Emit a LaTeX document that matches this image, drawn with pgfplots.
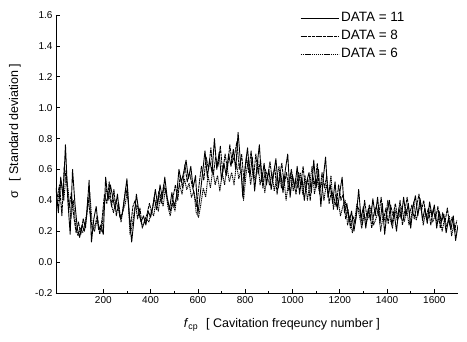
\documentclass[border=0pt]{standalone}
\usepackage{fontspec}
\setmainfont{Liberation Sans}
\usepackage{pgfplots}
\pgfplotsset{compat=1.18}

% Standard deviation of the cavitation signal, one series per data set
\newcommand{\dataA}{
(0,0.48) (10,0.32) (20,0.55) (30,0.42) (40,0.76) (50,0.40) (60,0.18) (70,0.60) (80,0.38) (90,0.22)
(100,0.16) (110,0.24) (120,0.20) (130,0.30) (140,0.53) (150,0.13) (160,0.28) (170,0.36) (180,0.21) (190,0.24)
(200,0.18) (210,0.55) (220,0.40) (230,0.50) (240,0.42) (250,0.34) (260,0.44) (270,0.29) (280,0.31) (290,0.42)
(300,0.54) (310,0.30) (320,0.13) (330,0.28) (340,0.44) (350,0.33) (360,0.26) (370,0.30) (380,0.24) (390,0.33)
(400,0.29) (410,0.36) (420,0.47) (430,0.37) (440,0.50) (450,0.41) (460,0.55) (470,0.42) (480,0.34) (490,0.45)
(500,0.36) (510,0.43) (520,0.60) (530,0.52) (540,0.58) (550,0.66) (560,0.54) (570,0.62) (580,0.48) (590,0.56)
(600,0.31) (610,0.44) (620,0.58) (630,0.72) (640,0.55) (650,0.66) (660,0.58) (670,0.80) (680,0.60) (690,0.71)
(700,0.53) (710,0.64) (720,0.56) (730,0.70) (740,0.62) (750,0.73) (760,0.60) (770,0.84) (780,0.65) (790,0.42)
(800,0.62) (810,0.74) (820,0.55) (830,0.68) (840,0.46) (850,0.62) (860,0.76) (870,0.52) (880,0.64) (890,0.50)
(900,0.60) (910,0.47) (920,0.57) (930,0.67) (940,0.48) (950,0.58) (960,0.45) (970,0.60) (980,0.70) (990,0.42)
(1000,0.56) (1010,0.48) (1020,0.62) (1030,0.44) (1040,0.55) (1050,0.40) (1060,0.52) (1070,0.58) (1080,0.45) (1090,0.66)
(1100,0.48) (1110,0.60) (1120,0.36) (1130,0.54) (1140,0.68) (1150,0.42) (1160,0.50) (1170,0.38) (1180,0.52) (1190,0.34)
(1200,0.45) (1210,0.55) (1220,0.32) (1230,0.38) (1240,0.26) (1250,0.33) (1260,0.20) (1270,0.30) (1280,0.47) (1290,0.28)
(1300,0.36) (1310,0.22) (1320,0.34) (1330,0.27) (1340,0.41) (1350,0.30) (1360,0.42) (1370,0.25) (1380,0.38) (1390,0.18)
(1400,0.33) (1410,0.40) (1420,0.24) (1430,0.32) (1440,0.20) (1450,0.35) (1460,0.28) (1470,0.42) (1480,0.30) (1490,0.38)
(1500,0.22) (1510,0.36) (1520,0.43) (1530,0.30) (1540,0.41) (1550,0.27) (1560,0.35) (1570,0.25) (1580,0.39) (1590,0.30)
(1600,0.37) (1610,0.22) (1620,0.33) (1630,0.26) (1640,0.31) (1650,0.19) (1660,0.28) (1670,0.21) (1680,0.30) (1690,0.14)
(1700,0.24)}

\newcommand{\dataB}{
(5,0.42) (15,0.50) (25,0.30) (35,0.62) (45,0.52) (55,0.35) (65,0.45) (75,0.30) (85,0.19) (95,0.26)
(105,0.18) (115,0.28) (125,0.22) (135,0.42) (145,0.30) (155,0.20) (165,0.24) (175,0.30) (185,0.18) (195,0.28)
(205,0.44) (215,0.38) (225,0.52) (235,0.36) (245,0.47) (255,0.30) (265,0.38) (275,0.26) (285,0.36) (295,0.48)
(305,0.40) (315,0.22) (325,0.36) (335,0.40) (345,0.28) (355,0.35) (365,0.22) (375,0.27) (385,0.31) (395,0.38)
(405,0.32) (415,0.42) (425,0.34) (435,0.46) (445,0.38) (455,0.50) (465,0.45) (475,0.38) (485,0.33) (495,0.42)
(505,0.50) (515,0.40) (525,0.56) (535,0.48) (545,0.63) (555,0.52) (565,0.58) (575,0.50) (585,0.44) (595,0.36)
(605,0.50) (615,0.62) (625,0.53) (635,0.68) (645,0.60) (655,0.74) (665,0.56) (675,0.68) (685,0.62) (695,0.75)
(705,0.58) (715,0.70) (725,0.60) (735,0.76) (745,0.64) (755,0.69) (765,0.78) (775,0.60) (785,0.70) (795,0.52)
(805,0.68) (815,0.58) (825,0.72) (835,0.54) (845,0.70) (855,0.57) (865,0.66) (875,0.48) (885,0.60) (895,0.55)
(905,0.65) (915,0.52) (925,0.62) (935,0.44) (945,0.56) (955,0.64) (965,0.50) (975,0.58) (985,0.46) (995,0.60)
(1005,0.52) (1015,0.44) (1025,0.58) (1035,0.50) (1045,0.62) (1055,0.46) (1065,0.54) (1075,0.40) (1085,0.56) (1095,0.50)
(1105,0.64) (1115,0.44) (1125,0.58) (1135,0.48) (1145,0.56) (1155,0.38) (1165,0.46) (1175,0.42) (1185,0.36) (1195,0.50)
(1205,0.40) (1215,0.44) (1225,0.28) (1235,0.34) (1245,0.22) (1255,0.30) (1265,0.25) (1275,0.36) (1285,0.33) (1295,0.24)
(1305,0.40) (1315,0.29) (1325,0.37) (1335,0.22) (1345,0.32) (1355,0.36) (1365,0.30) (1375,0.42) (1385,0.27) (1395,0.35)
(1405,0.25) (1415,0.37) (1425,0.30) (1435,0.38) (1445,0.28) (1455,0.40) (1465,0.24) (1475,0.33) (1485,0.42) (1495,0.31)
(1505,0.37) (1515,0.28) (1525,0.36) (1535,0.44) (1545,0.33) (1555,0.40) (1565,0.29) (1575,0.35) (1585,0.24) (1595,0.34)
(1605,0.28) (1615,0.36) (1625,0.22) (1635,0.32) (1645,0.26) (1655,0.35) (1665,0.24) (1675,0.29) (1685,0.20) (1695,0.27)}

\newcommand{\dataC}{
(3,0.36) (13,0.45) (23,0.52) (33,0.40) (43,0.58) (53,0.44) (63,0.28) (73,0.40) (83,0.24) (93,0.17)
(103,0.22) (113,0.19) (123,0.26) (133,0.34) (143,0.45) (153,0.24) (163,0.20) (173,0.27) (183,0.22) (193,0.20)
(203,0.36) (213,0.47) (223,0.44) (233,0.38) (243,0.32) (253,0.40) (263,0.35) (273,0.28) (283,0.33) (293,0.38)
(303,0.47) (313,0.18) (323,0.24) (333,0.35) (343,0.37) (353,0.30) (363,0.24) (373,0.25) (383,0.28) (393,0.26)
(403,0.33) (413,0.30) (423,0.40) (433,0.33) (443,0.44) (453,0.36) (463,0.48) (473,0.36) (483,0.30) (493,0.38)
(503,0.33) (513,0.46) (523,0.50) (533,0.44) (543,0.54) (553,0.47) (563,0.51) (573,0.42) (583,0.46) (593,0.32)
(603,0.29) (613,0.38) (623,0.48) (633,0.42) (643,0.56) (653,0.48) (663,0.60) (673,0.50) (683,0.56) (693,0.46)
(703,0.58) (713,0.50) (723,0.62) (733,0.52) (743,0.58) (753,0.50) (763,0.64) (773,0.54) (783,0.60) (793,0.40)
(803,0.56) (813,0.66) (823,0.50) (833,0.60) (843,0.52) (853,0.66) (863,0.50) (873,0.58) (883,0.45) (893,0.56)
(903,0.50) (913,0.58) (923,0.46) (933,0.54) (943,0.62) (953,0.48) (963,0.56) (973,0.40) (983,0.52) (993,0.58)
(1003,0.46) (1013,0.54) (1023,0.48) (1033,0.58) (1043,0.44) (1053,0.56) (1063,0.40) (1073,0.50) (1083,0.62) (1093,0.44)
(1103,0.54) (1113,0.46) (1123,0.52) (1133,0.40) (1143,0.50) (1153,0.44) (1163,0.56) (1173,0.34) (1183,0.44) (1193,0.40)
(1203,0.30) (1213,0.36) (1223,0.40) (1233,0.24) (1243,0.30) (1253,0.19) (1263,0.27) (1273,0.38) (1283,0.30) (1293,0.22)
(1303,0.31) (1313,0.26) (1323,0.30) (1333,0.36) (1343,0.24) (1353,0.28) (1363,0.34) (1373,0.20) (1383,0.30) (1393,0.26)
(1403,0.40) (1413,0.28) (1423,0.22) (1433,0.34) (1443,0.27) (1453,0.30) (1463,0.36) (1473,0.26) (1483,0.34) (1493,0.24)
(1503,0.30) (1513,0.39) (1523,0.27) (1533,0.33) (1543,0.38) (1553,0.24) (1563,0.32) (1573,0.28) (1583,0.34) (1593,0.26)
(1603,0.30) (1613,0.25) (1623,0.31) (1633,0.20) (1643,0.28) (1653,0.23) (1663,0.30) (1673,0.17) (1683,0.25) (1693,0.19)}

\begin{document}
\begin{tikzpicture}
\useasboundingbox (-56pt,-48pt) rectangle (411pt,293pt);
\begin{axis}[
  scale only axis,
  width=402pt, height=278pt,
  xmin=0, xmax=1700,
  ymin=-0.2, ymax=1.6,
  axis x line*=bottom,
  axis y line*=left,
  axis line style={line width=0.8pt},
  xtick={200,400,...,1600},
  ytick={-0.2,0,0.2,...,1.61},
  minor x tick num=1,
  minor y tick num=1,
  tick align=inside,
  major tick length=4pt,
  minor tick length=2pt,
  tick style={line width=0.7pt, black},
  /pgf/number format/assume math mode=true,
  yticklabel style={/pgf/number format/.cd, fixed, fixed zerofill, precision=1},
  xticklabel style={/pgf/number format/.cd, 1000 sep={}},
  ticklabel style={font=\fontsize{10}{12}\selectfont},
  xlabel={\textit{f}\textsubscript{cp}\hspace{8pt}[ Cavitation freqeuncy number ]},
  ylabel={σ\hspace{9pt}[ Standard deviation ]},
  label style={font=\fontsize{12.5}{14}\selectfont},
  xlabel style={at={(rel axis cs:0.562,-0.115)}, anchor=center},
  ylabel style={at={(rel axis cs:-0.102,0.583)}, anchor=center},
  legend style={draw=none, fill=none, at={(rel axis cs:0.605,1.02)}, anchor=north west,
    font=\fontsize{13.5}{16}\selectfont, row sep=3pt, inner sep=1pt},
  legend cell align=left,
  legend image code/.code={\draw[#1, line width=0.6pt] (0pt,0pt) -- (38pt,0pt);},
]
\addplot[black, no marks, line width=0.9pt, line join=round] coordinates {\dataA};
\addlegendentry{DATA = 11}
\addplot[black, no marks, line width=0.9pt, line join=round, dash pattern=on 3pt off 0.7pt] coordinates {\dataB};
\addlegendentry{DATA = 8}
\addplot[black, no marks, line width=0.9pt, line join=round, dash pattern=on 1.2pt off 0.7pt] coordinates {\dataC};
\addlegendentry{DATA = 6}
\end{axis}
\end{tikzpicture}
\end{document}
